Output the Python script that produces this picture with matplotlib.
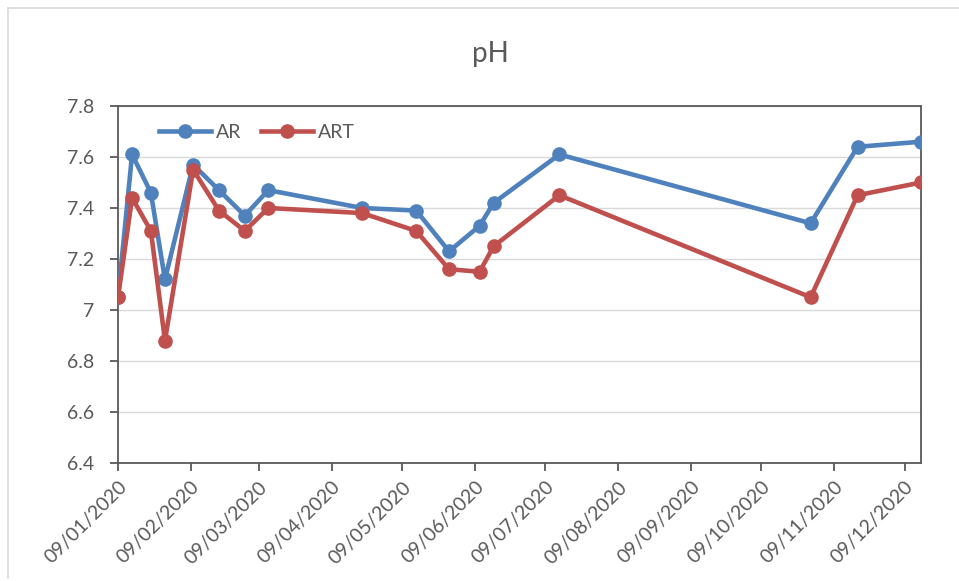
import matplotlib
matplotlib.use("Agg")
import matplotlib.pyplot as plt
import matplotlib.dates as mdates
from matplotlib.lines import Line2D
from datetime import datetime

# Sampling dates (2020) and pH readings for the two series
dates = ["2020-01-09", "2020-01-15", "2020-01-23", "2020-01-29", "2020-02-10",
         "2020-02-21", "2020-03-03", "2020-03-13", "2020-04-22", "2020-05-15",
         "2020-05-29", "2020-06-11", "2020-06-17", "2020-07-15", "2020-10-30",
         "2020-11-19", "2020-12-16"]
ar = [7.05, 7.61, 7.46, 7.12, 7.57, 7.47, 7.37, 7.47, 7.40, 7.39,
      7.23, 7.33, 7.42, 7.61, 7.34, 7.64, 7.66]
art = [7.05, 7.44, 7.31, 6.88, 7.55, 7.39, 7.31, 7.40, 7.38, 7.31,
       7.16, 7.15, 7.25, 7.45, 7.05, 7.45, 7.50]
y_ticks = [6.4, 6.6, 6.8, 7.0, 7.2, 7.4, 7.6, 7.8]
y_tick_labels = ["6.4", "6.6", "6.8", "7", "7.2", "7.4", "7.6", "7.8"]
x_tick_months = list(range(1, 13))

plt.rcParams["font.family"] = ["Lato", "DejaVu Sans"]
TEXT = "#595959"
BLUE = "#4F81BD"
RED = "#C0504D"

x = [datetime.strptime(d, "%Y-%m-%d") for d in dates]

fig = plt.figure(figsize=(9.59, 5.81), dpi=100)
# light outer chart border
fig.add_artist(Line2D([8 / 959, 8 / 959], [1 - 578 / 581, 1 - 8 / 581],
                      transform=fig.transFigure, color="#D9D9D9", lw=1.2))
fig.add_artist(Line2D([8 / 959, 1.0], [1 - 8 / 581, 1 - 8 / 581],
                      transform=fig.transFigure, color="#D9D9D9", lw=1.2))

ax = fig.add_axes([118 / 959, 1 - 463 / 581, (921 - 118) / 959, (463 - 106) / 581])

ax.plot(x, ar, color=BLUE, lw=3.3, marker="o", ms=9.5, label="AR", zorder=3)
ax.plot(x, art, color=RED, lw=3.3, marker="o", ms=9.5, label="ART", zorder=4)

ax.set_ylim(6.4, 7.8)
ax.set_yticks(y_ticks)
ax.set_yticklabels(y_tick_labels)
ax.set_xlim(x[0], x[-1])
ax.set_xticks([datetime(2020, m, 9) for m in x_tick_months])
ax.xaxis.set_major_formatter(mdates.DateFormatter("%d/%m/%Y"))
for lbl in ax.get_xticklabels():
    lbl.set_rotation(45)
    lbl.set_ha("right")
    lbl.set_rotation_mode("anchor")

ax.grid(axis="y", color="#D9D9D9", lw=1)
ax.set_axisbelow(True)
for s in ax.spines.values():
    s.set_color("#595959")
    s.set_linewidth(1.3)
ax.tick_params(axis="both", colors="#595959", labelcolor=TEXT, labelsize=14,
               length=6, width=1.3, direction="out")
ax.tick_params(axis="y", pad=11)
ax.tick_params(axis="x", pad=5)

fig.text(490 / 959, 1 - 54 / 581, "pH", ha="center", va="center",
         fontsize=20, color=TEXT)

leg = ax.legend(loc="center left", bbox_to_anchor=(0.041, 0.927), ncol=2,
                frameon=False, fontsize=14, handlelength=2.7,
                columnspacing=1.0, handletextpad=0.25, borderaxespad=0)
for t in leg.get_texts():
    t.set_color(TEXT)

fig.savefig("out.png", dpi=100, facecolor="white")
